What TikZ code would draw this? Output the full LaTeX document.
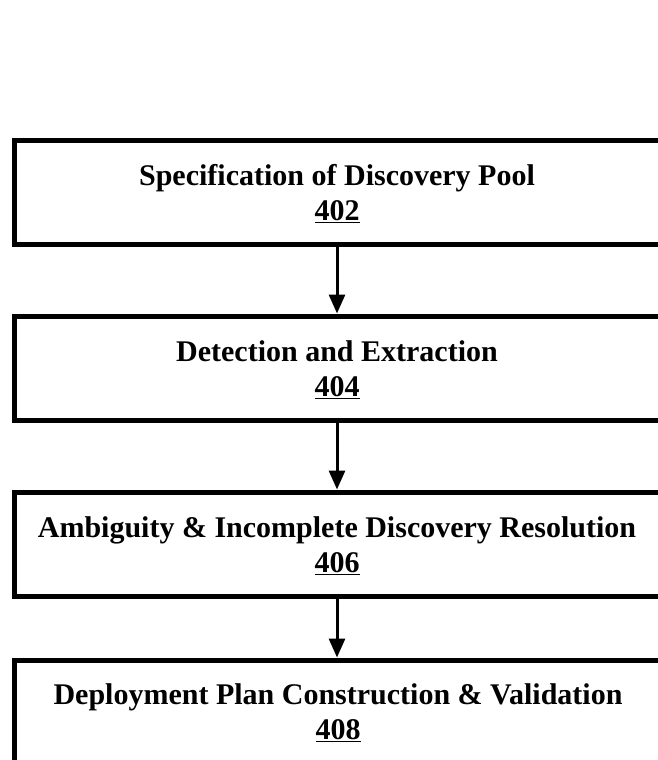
\documentclass[tikz,border=0pt]{standalone}
\usepackage{fontspec}
\setmainfont{Liberation Serif}
\usetikzlibrary{arrows.meta}
\tikzset{stepbox/.style={draw=black, line width=5pt, minimum width=680pt, minimum height=104pt, inner sep=0pt},
steptext/.style={font=\bfseries\fontsize{30}{35}\selectfont, align=center, inner sep=0pt},
flow/.style={line width=3pt, -{Triangle[width=16pt,length=19pt]}}}

\begin{document}
\begin{tikzpicture}[x=1pt,y=-1pt]

\useasboundingbox (0,0) rectangle (658,760);

\node[stepbox] (box1) at (354,192) {};
\node[stepbox] (box2) at (354,368) {};
\node[stepbox] (box3) at (354,544) {};
\node[stepbox] (box4) at (354,712) {};

\node[steptext] (text1) at (337,194) {Specification of Discovery Pool\\\underline{402}};
\node[steptext] (text2) at (337,370) {Detection and Extraction\\\underline{404}};
\node[steptext] (text3) at (337,546) {Ambiguity \& Incomplete Discovery Resolution\\\underline{406}};
\node[steptext] (text4) at (338,713) {Deployment Plan Construction \& Validation\\\underline{408}};

\foreach \i/\j in {1/2, 2/3, 3/4}
    \draw[flow] (text1 |- box\i.south) -- (text1 |- box\j.north);

\end{tikzpicture}
\end{document}
